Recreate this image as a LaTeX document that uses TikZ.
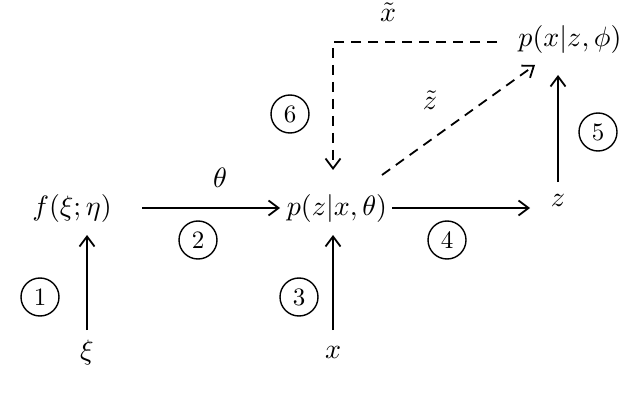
\documentclass[tikz,border=0pt]{standalone}
\usetikzlibrary{arrows.meta}
\newcommand{\mth}[1]{\scalebox{2.8}{$#1$}}
\newcommand{\nmb}[1]{\scalebox{2.5}{#1}}
\begin{document}
\begin{tikzpicture}[x=1pt,y=-1pt,
  lbl/.style={inner sep=1pt},
  num/.style={circle,draw,line width=1.4pt,minimum size=38pt,inner sep=0pt},
  arr/.style={line width=1.8pt,-{Straight Barb[length=10pt,width=15pt,line width=1.8pt]}},
  darr/.style={arr,dash pattern=on 10pt off 7pt}]
\useasboundingbox (0,0) rectangle (640,409);
\node[lbl] (f) at (72,208) {\mth{f(\xi;\eta)}};
\node[lbl] (p) at (337,208) {\mth{p(z|x,\theta)}};
\node[lbl] (z) at (558,200) {\mth{z}};
\node[lbl] (q) at (570,40) {\mth{p(x|z,\phi)}};
\node[lbl] (xt) at (388,12) {\mth{\tilde{x}}};
\node[lbl] (xi) at (87,352) {\mth{\xi}};
\node[lbl] (x) at (333,352) {\mth{x}};
\node[lbl] (th) at (220,178) {\mth{\theta}};
\node[lbl] (zt) at (430,100) {\mth{\tilde{z}}};
\node[num] (n1) at (40,297) {\nmb{1}};
\node[num] (n2) at (198,240) {\nmb{2}};
\node[num] (n3) at (299,297) {\nmb{3}};
\node[num] (n4) at (447,240) {\nmb{4}};
\node[num] (n5) at (598,132) {\nmb{5}};
\node[num] (n6) at (290,114) {\nmb{6}};
\coordinate (s) at (497,42);
\coordinate (c) at (333,42);
\draw[arr] (142,208) -- (280,208);
\draw[arr] (392,208) -- (530,208);
\draw[arr] (87,330) -- (87,235);
\draw[arr] (333,330) -- (333,235);
\draw[arr] (558,182) -- (558,75);
\draw[darr] (s) -- (c) -- (333,170);
\draw[darr] (382,175) -- (535,65);
\end{tikzpicture}
\end{document}
